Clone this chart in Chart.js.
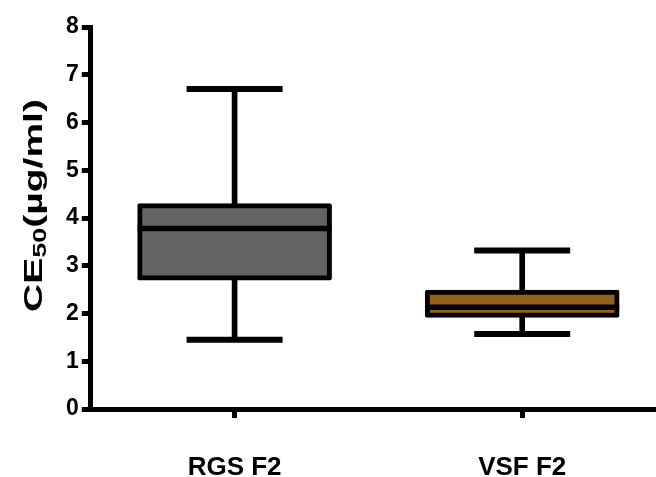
<!DOCTYPE html>
<html>
<head>
<meta charset="utf-8">
<script src="https://cdn.jsdelivr.net/npm/chart.js@4/dist/chart.umd.min.js"></script>
<style>
  html, body { margin: 0; padding: 0; background: #fff; overflow: hidden; }
  canvas { display: block; }
</style>
</head>
<body>
<canvas id="c" width="670" height="518" style="width:670px;height:518px"></canvas>
<script>
// Box-and-whisker summary per formulation
const categories  = ['RGS F2', 'VSF F2'];
const whiskerLow  = [1.45, 1.57];
const quartile1   = [2.70, 1.92];
const medians     = [3.78, 2.13];
const quartile3   = [4.30, 2.49];
const whiskerHigh = [6.70, 3.32];
const yTicks      = [0, 1, 2, 3, 4, 5, 6, 7, 8];
const boxColors   = ['#636363', '#93621f'];

const FONT = "'Liberation Sans', Arial, Helvetica, sans-serif";

const boxRanges   = categories.map((_, i) => [quartile1[i], quartile3[i]]);
const upperStems  = categories.map((_, i) => [quartile3[i], whiskerHigh[i]]);
const lowerStems  = categories.map((_, i) => [whiskerLow[i], quartile1[i]]);

// Rotated y-axis title with a subscript: CE50(µg/ml)
const yTitlePlugin = {
  id: 'yTitle',
  afterDraw(chart) {
    const ctx = chart.ctx;
    const parts = [
      { t: 'CE', size: 26, dy: 0 },
      { t: '50', size: 18, dy: 4 },
      { t: '(\u00b5g/ml)', size: 26, dy: 0 }
    ];
    ctx.save();
    ctx.translate(42, 205.5);
    ctx.rotate(-Math.PI / 2);
    ctx.scale(1.5, 1);
    ctx.fillStyle = '#000';
    ctx.textBaseline = 'alphabetic';
    ctx.textAlign = 'left';
    let total = 0;
    parts.forEach(p => {
      ctx.font = `bold ${p.size}px ${FONT}`;
      p.w = ctx.measureText(p.t).width;
      total += p.w;
    });
    let x = -total / 2;
    parts.forEach(p => {
      ctx.font = `bold ${p.size}px ${FONT}`;
      ctx.fillText(p.t, x, p.dy);
      x += p.w;
    });
    ctx.restore();
  }
};

new Chart(document.getElementById('c'), {
  type: 'bar',
  data: {
    labels: categories,
    datasets: [
      {
        type: 'line',
        data: medians,
        showLine: false,
        pointStyle: 'line',
        pointRadius: 97,
        pointHoverRadius: 97,
        pointBorderWidth: 5.5,
        pointBorderColor: '#000',
        order: 0
      },
      {
        type: 'bar',
        data: boxRanges,
        backgroundColor: boxColors,
        borderColor: '#000',
        borderWidth: 5,
        borderSkipped: false,
        borderRadius: 2,
        barThickness: 194,
        grouped: false,
        order: 1
      },
      {
        type: 'line',
        data: whiskerHigh,
        showLine: false,
        pointStyle: 'line',
        pointRadius: 48,
        pointHoverRadius: 48,
        pointBorderWidth: 6,
        pointBorderColor: '#000',
        order: 2
      },
      {
        type: 'line',
        data: whiskerLow,
        showLine: false,
        pointStyle: 'line',
        pointRadius: 48,
        pointHoverRadius: 48,
        pointBorderWidth: 6,
        pointBorderColor: '#000',
        order: 2
      },
      {
        type: 'bar',
        data: upperStems,
        backgroundColor: '#000',
        borderWidth: 0,
        barThickness: 5,
        grouped: false,
        order: 3
      },
      {
        type: 'bar',
        data: lowerStems,
        backgroundColor: '#000',
        borderWidth: 0,
        barThickness: 5,
        grouped: false,
        order: 3
      }
    ]
  },
  options: {
    responsive: false,
    animation: false,
    events: [],
    layout: { autoPadding: false, padding: { left: 63, right: 4, top: 27, bottom: 0 } },
    plugins: {
      legend: { display: false },
      tooltip: { enabled: false }
    },
    scales: {
      x: {
        type: 'category',
        offset: true,
        grid: {
          offset: false,
          drawOnChartArea: false,
          drawTicks: true,
          tickLength: 9,
          lineWidth: 5,
          color: '#000'
        },
        border: { display: true, width: 5, color: '#000' },
        ticks: {
          color: '#000',
          padding: 37,
          font: { family: FONT, size: 26, weight: 'bold', lineHeight: 1 }
        }
      },
      y: {
        min: 0,
        max: 8,
        afterBuildTicks(scale) {
          scale.ticks = yTicks.map(v => ({ value: v }));
        },
        grid: {
          drawOnChartArea: false,
          drawTicks: true,
          tickLength: 9,
          lineWidth: 5,
          color: '#000'
        },
        border: { display: true, width: 5, color: '#000' },
        ticks: {
          color: '#000',
          padding: 3,
          font: { family: FONT, size: 23, weight: 'bold' }
        }
      }
    }
  },
  plugins: [yTitlePlugin]
});
</script>
</body>
</html>
